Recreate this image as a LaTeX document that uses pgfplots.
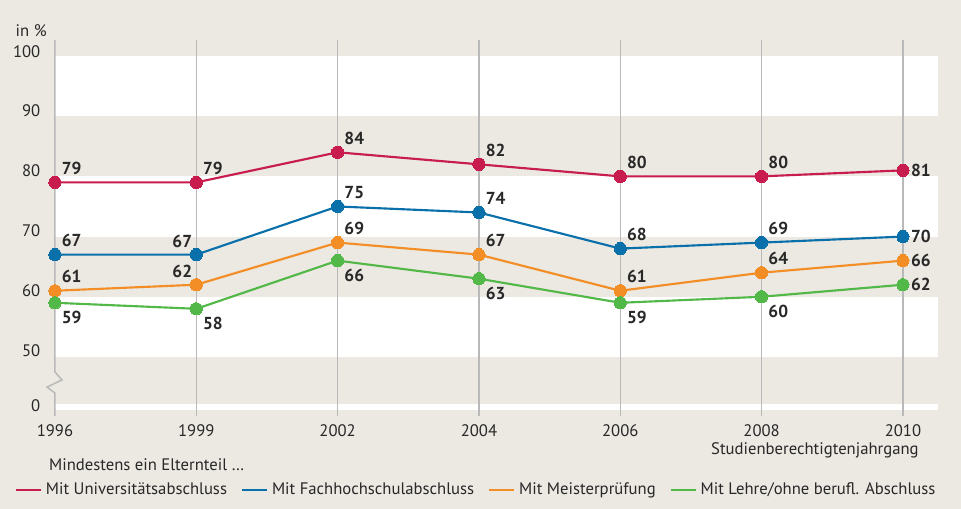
\documentclass[border=0pt]{standalone}
\usepackage{pgfplots}
\pgfplotsset{compat=1.18}
\usepackage{fontspec}
\setmainfont{PT Sans}
\definecolor{bg}{RGB}{236,232,226}
\definecolor{cuni}{RGB}{200,28,78}
\definecolor{cfh}{RGB}{10,112,170}
\definecolor{cmei}{RGB}{243,142,38}
\definecolor{cleh}{RGB}{82,184,72}
\definecolor{cgrid}{RGB}{185,185,185}
\definecolor{txt}{RGB}{40,40,40}

\begin{document}
\begin{tikzpicture}
\begin{axis}[
  set layers,
  x=106pt, y=4.515pt,
  xmin=0, xmax=6.248, ymin=40, ymax=100,
  clip=false,
  axis line style={draw=none},
  major tick length=0pt,
  xtick={0,...,6},
  xticklabels={1996,1999,2002,2004,2006,2008,2010},
  xticklabel style={anchor=base, yshift=-14.6pt, text=txt, font=\fontsize{12.5}{14}\selectfont},
  ytick={40.9,50,60,70,80,90,99.8},
  yticklabels={0,50,60,70,80,90,100},
  yticklabel style={anchor=base east, xshift=-7.5pt, text=txt, font=\fontsize{12.5}{14}\selectfont},
  /pgf/number format/assume math mode=true,
  legend image code/.code={\draw[#1, line width=1.5pt] (0pt,0pt) -- (18.75pt,0pt);},
  legend style={at={(axis cs:-0.283,27.9)}, anchor=west, draw=none, fill=none,
    inner sep=0pt, outer sep=0pt, legend columns=4,
    font=\fontsize{12.5}{14}\selectfont, text=txt,
    nodes={inner xsep=3pt},
    /tikz/every even column/.append style={column sep=7.5pt}},
  lbl/.style={draw=none, mark=none, forget plot, nodes near coords,
    nodes near coords style={anchor=center, text=txt, inner sep=0pt,
      font=\fontsize{13}{15}\selectfont\bfseries, #1}},
  ser/.style={#1, line width=1.6pt, mark=*, mark size=4.6pt, mark options={solid, fill=#1, draw=#1, line width=0pt}},
]
\begin{pgfonlayer}{axis background}
% background
\fill[bg] (axis cs:-0.389,24.75) rectangle (axis cs:6.411,109.3);
\fill[white] (axis cs:0,90) rectangle (axis cs:6.248,100);
\fill[white] (axis cs:0,70) rectangle (axis cs:6.248,80);
\fill[white] (axis cs:0,50) rectangle (axis cs:6.248,60);
\fill[white] (axis cs:0,41.2) rectangle (axis cs:6.248,42.2);
% vertical lines
\draw[cgrid, line width=1.1pt] (axis cs:0,102.66) -- (axis cs:0,47.5) -- (axis cs:0.0495,46.18) -- (axis cs:-0.0566,45.0) -- (axis cs:0,44.0) -- (axis cs:0,40.2);
\draw[cgrid, line width=1.1pt] (axis cs:1,102.66) -- (axis cs:1,40.2);
\draw[cgrid, line width=1.1pt] (axis cs:2,102.66) -- (axis cs:2,40.2);
\draw[cgrid, line width=1.1pt] (axis cs:3,102.66) -- (axis cs:3,40.2);
\draw[cgrid, line width=1.1pt] (axis cs:4,102.66) -- (axis cs:4,40.2);
\draw[cgrid, line width=1.1pt] (axis cs:5,102.66) -- (axis cs:5,40.2);
\draw[cgrid, line width=1.1pt] (axis cs:6,102.66) -- (axis cs:6,40.2);
\end{pgfonlayer}
% texts
\node[anchor=base east, text=txt, font=\fontsize{12.5}{14}\selectfont, inner sep=0pt] at (axis cs:-0.057,103.3) {in \%};
\node[anchor=base east, text=txt, font=\fontsize{12.5}{14}\selectfont, inner sep=0pt] at (axis cs:6.113,33.72) {Studienberechtigtenjahrgang};
\node[anchor=base west, text=txt, font=\fontsize{12.5}{14}\selectfont, inner sep=0pt] at (axis cs:-0.0425,31.11) {Mindestens ein Elternteil \dots};
% data
\addplot[ser=cuni] coordinates {(0,79) (1,79) (2,84) (3,82) (4,80) (5,80) (6,81)};
\addlegendentry{Mit Universitätsabschluss}
\addplot[ser=cfh] coordinates {(0,67) (1,67) (2,75) (3,74) (4,68) (5,69) (6,70)};
\addlegendentry{Mit Fachhochschulabschluss}
\addplot[ser=cmei] coordinates {(0,61) (1,62) (2,69) (3,67) (4,61) (5,64) (6,66)};
\addlegendentry{Mit Meisterprüfung}
\addplot[ser=cleh] coordinates {(0,59) (1,58) (2,66) (3,63) (4,59) (5,60) (6,62)};
\addlegendentry{Mit Lehre/ohne berufl. Abschluss}
% value labels
\addplot[lbl={xshift=12.5pt, yshift=10.5pt}] coordinates {(0,79) (1,79) (2,84) (3,82) (4,80) (5,80)
  (0,67) (2,75) (3,74) (4,68) (5,69) (0,61) (2,69) (3,67) (4,61) (5,64)};
\addplot[lbl={xshift=-10.5pt, yshift=10pt}] coordinates {(1,67) (1,62)};
\addplot[lbl={xshift=12.5pt, yshift=-11pt}] coordinates {(0,59) (1,58) (2,66) (3,63) (4,59) (5,60)};
\addplot[lbl={xshift=13.5pt, yshift=0pt}] coordinates {(6,81) (6,70) (6,66) (6,62)};
\end{axis}
\end{tikzpicture}
\end{document}
